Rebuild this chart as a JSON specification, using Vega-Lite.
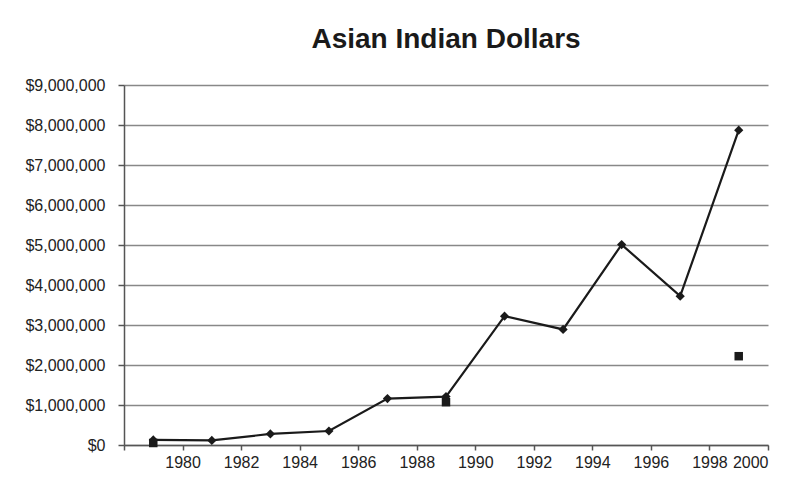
{
  "$schema": "https://vega.github.io/schema/vega-lite/v6.json",
  "width": 644,
  "height": 360,
  "autosize": {"type": "none"},
  "padding": {"left": 124, "top": 85, "right": 30, "bottom": 37},
  "background": "white",
  "config": {"font": "Liberation Sans", "view": {"stroke": null}},
  "title": {
    "text": "Asian Indian Dollars",
    "fontSize": 28,
    "fontWeight": "bold",
    "color": "#1a1a1a",
    "anchor": "middle",
    "frame": "group",
    "baseline": "alphabetic",
    "offset": 1
  },
  "datasets": {
    "main": [
      {"year": 1979, "dollars": 126000},
      {"year": 1981, "dollars": 115000},
      {"year": 1983, "dollars": 276000},
      {"year": 1985, "dollars": 350000},
      {"year": 1987, "dollars": 1160000},
      {"year": 1989, "dollars": 1210000},
      {"year": 1991, "dollars": 3220000},
      {"year": 1993, "dollars": 2890000},
      {"year": 1995, "dollars": 5010000},
      {"year": 1997, "dollars": 3720000},
      {"year": 1999, "dollars": 7870000}
    ],
    "second": [
      {"year": 1979, "dollars": 50000},
      {"year": 1989, "dollars": 1070000},
      {"year": 1999, "dollars": 2220000}
    ]
  },
  "encoding": {
    "x": {
      "field": "year",
      "type": "quantitative",
      "scale": {"domain": [1978, 2000], "nice": false, "zero": false},
      "axis": {
        "values": [1978, 1980, 1982, 1984, 1986, 1988, 1990, 1992, 1994, 1996, 1998, 2000],
        "format": "d",
        "labelExpr": "datum.value == 1978 ? '' : datum.label",
        "grid": false,
        "title": null,
        "domainColor": "#555555",
        "domainWidth": 1.5,
        "tickColor": "#555555",
        "tickWidth": 1.5,
        "tickSize": 5,
        "labelFontSize": 16,
        "labelColor": "#222222",
        "labelPadding": 4
      }
    },
    "y": {
      "field": "dollars",
      "type": "quantitative",
      "scale": {"domain": [0, 9000000], "nice": false},
      "axis": {
        "values": [0, 1000000, 2000000, 3000000, 4000000, 5000000, 6000000, 7000000, 8000000, 9000000],
        "format": "$,.0f",
        "grid": true,
        "gridColor": "#888888",
        "gridWidth": 1.5,
        "title": null,
        "domainColor": "#555555",
        "domainWidth": 1.5,
        "tickColor": "#555555",
        "tickWidth": 1.5,
        "tickSize": 6,
        "labelFontSize": 16,
        "labelColor": "#222222",
        "labelPadding": 13
      }
    }
  },
  "layer": [
    {
      "data": {"name": "main"},
      "mark": {
        "type": "line",
        "color": "#1a1a1a",
        "strokeWidth": 2.2,
        "point": {"shape": "diamond", "size": 85, "filled": true, "color": "#1a1a1a", "opacity": 1}
      }
    },
    {
      "data": {"name": "second"},
      "mark": {"type": "point", "shape": "square", "size": 72, "filled": true, "color": "#1a1a1a", "opacity": 1}
    }
  ]
}
